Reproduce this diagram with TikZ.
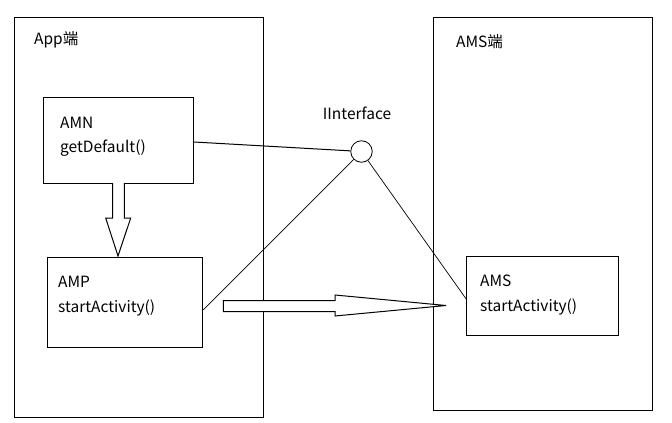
\documentclass[tikz,border=0pt]{standalone}
\usepackage{fontspec}
\setmainfont{Noto Sans CJK SC}
\begin{document}
\begin{tikzpicture}[x=1pt,y=-1pt,
  box/.style={draw=black,line width=1pt,anchor=north west,inner sep=0pt},
  lbl/.style={anchor=west,inner sep=0pt,font=\fontsize{15.5}{18}\selectfont},
  conn/.style={draw=black,line width=0.7pt},
  hollow/.style={draw=black,line width=1pt,fill=white}]
\useasboundingbox (0,0) rectangle (672,423);
% outer boxes
\node[box,minimum width=249pt,minimum height=400pt] (app) at (14,17) {};
\node[box,minimum width=219pt,minimum height=393pt] (amsside) at (432.5,17) {};
\node[lbl] (applbl) at (34,40) {App端};
\node[lbl] (amslbl) at (456,42) {AMS端};
% inner boxes
\node[box,minimum width=150pt,minimum height=86pt] (amn) at (43,97) {};
\node[lbl] (amnt1) at (60,123) {AMN};
\node[lbl] (amnt2) at (60,148) {getDefault()};
\node[box,minimum width=155pt,minimum height=90pt] (amp) at (47.3,257.3) {};
\node[lbl] (ampt1) at (58,282) {AMP};
\node[lbl] (ampt2) at (58,308) {startActivity()};
\node[box,minimum width=151.5pt,minimum height=79.5pt] (ams) at (466,255.5) {};
\node[lbl] (amst1) at (480,281) {AMS};
\node[lbl] (amst2) at (480,306.5) {startActivity()};
% interface
\node[draw=black,line width=0.8pt,circle,minimum size=21.5pt,inner sep=0pt] (iface) at (361.5,151.5) {};
\node[lbl,anchor=center] (ifacelbl) at (357,113) {IInterface};
% connectors
\coordinate (ampout) at ([yshift=-7pt]amp.east);
\coordinate (amsin) at ([yshift=-3pt]ams.west);
\draw[conn,line width=1pt] ([yshift=-1.5pt]amn.east) -- (iface);
\draw[conn] (ampout) -- (iface);
\draw[conn] (amsin) -- (iface);
% hollow arrows
\draw[hollow] (112.7,183) -- (112.7,218) -- (105.7,218) -- (118,256) -- (130.7,218) -- (124.3,218) -- (124.3,183);
\draw[hollow] (223.3,300.7) -- (335,300.7) -- (335,295) -- (446,305.5) -- (335,316) -- (335,311.7) -- (223.3,311.7) -- cycle;
\end{tikzpicture}
\end{document}
